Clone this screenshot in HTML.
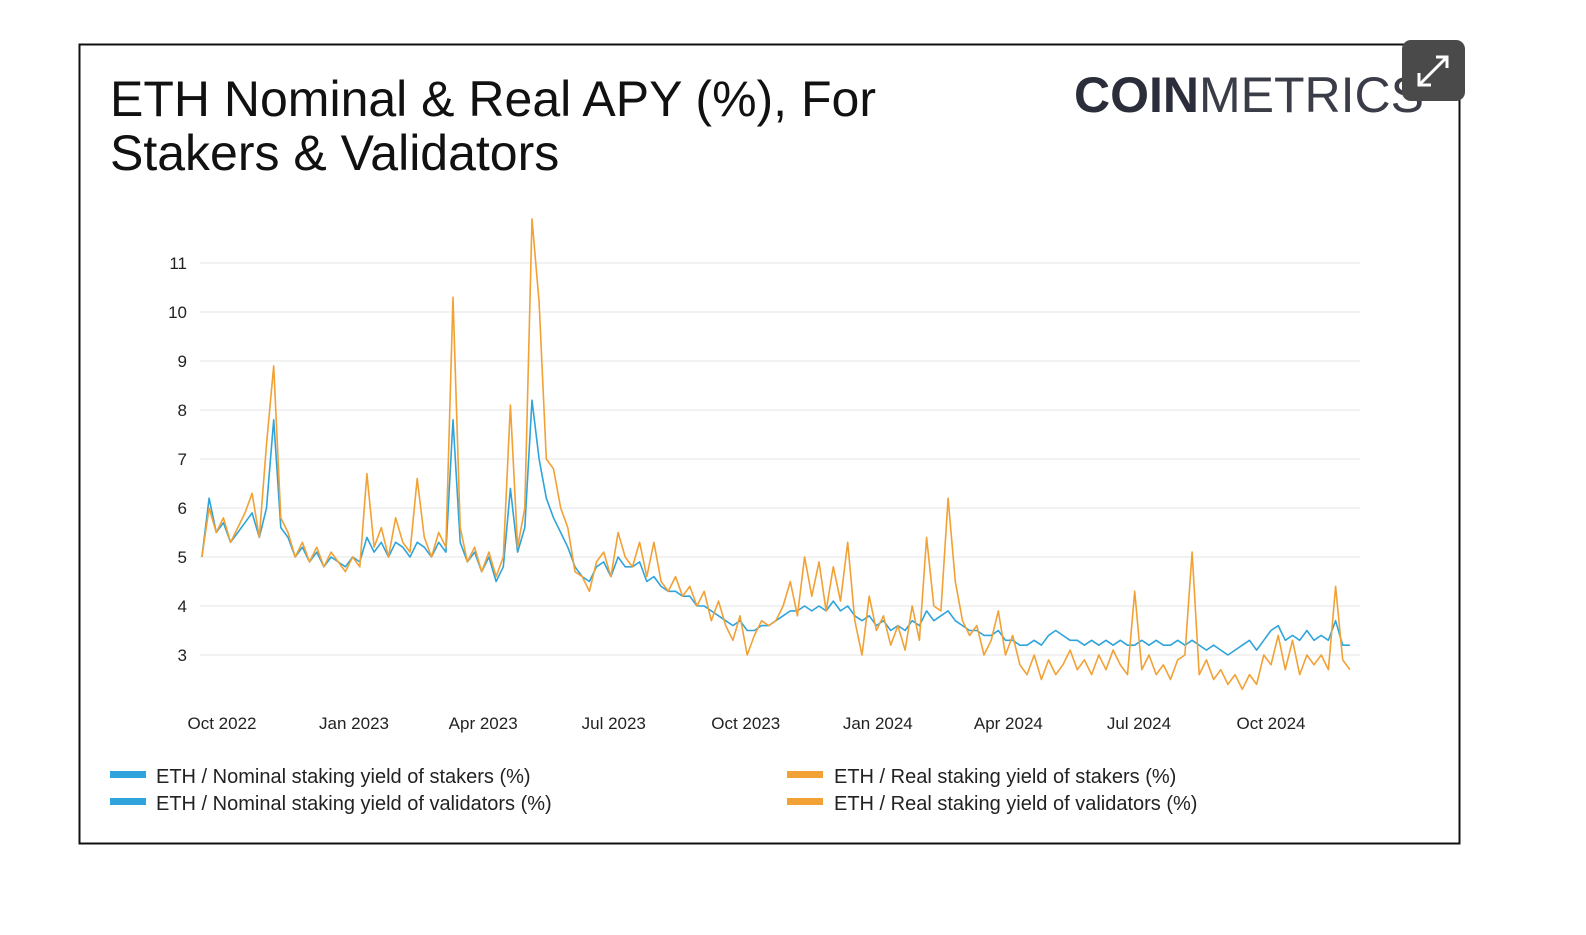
<!DOCTYPE html>
<html><head><meta charset="utf-8"><style>
body{margin:0;background:#fff;width:1586px;height:930px;overflow:hidden;font-family:"Liberation Sans",sans-serif;}
svg text{font-family:"Liberation Sans",sans-serif;}
</style></head><body>
<svg width="1586" height="930">
<rect x="79.5" y="44.5" width="1380" height="799" fill="#fff" stroke="#111" stroke-width="2"/>
<text x="110" y="116" font-size="50" fill="#111">ETH Nominal &amp; Real APY (%), For</text>
<text x="110" y="170" font-size="50" fill="#111">Stakers &amp; Validators</text>
<text x="1074" y="112" font-size="50" fill="#2b2d3a"><tspan font-weight="bold">COIN</tspan><tspan font-weight="normal" fill="#3a3c48">METRICS</tspan></text>
<g>
<rect x="1402" y="40" width="63" height="61" rx="9" fill="#4a4a4a"/>
<path d="M1420 84 L1446 58 M1436 57 L1447 57 L1447 68 M1419 73 L1419 85 L1431 85" stroke="#fff" stroke-width="3" fill="none"/>
</g>
<g id="grid"></g>
<g id="yticks"></g>
<g id="xticks"></g>
<g id="lines"></g>
<g>
<rect x="110" y="771" width="36" height="7" fill="#2fa4dc"/>
<text x="156" y="783" font-size="20" fill="#222">ETH / Nominal staking yield of stakers (%)</text>
<rect x="110" y="798" width="36" height="7" fill="#2fa4dc"/>
<text x="156" y="810" font-size="20" fill="#222">ETH / Nominal staking yield of validators (%)</text>
<rect x="787" y="771" width="36" height="7" fill="#f2a134"/>
<text x="834" y="783" font-size="20" fill="#222">ETH / Real staking yield of stakers (%)</text>
<rect x="787" y="798" width="36" height="7" fill="#f2a134"/>
<text x="834" y="810" font-size="20" fill="#222">ETH / Real staking yield of validators (%)</text>
</g>
</svg>
<script>
const yTicks=[3,4,5,6,7,8,9,10,11];
const xTickLabels=["Oct 2022","Jan 2023","Apr 2023","Jul 2023","Oct 2023","Jan 2024","Apr 2024","Jul 2024","Oct 2024"];
const xTickDays=[0,92,182,273,365,457,548,639,731];
const startDay=-14, stepDays=5;
const realYield=[5.0,6.0,5.5,5.8,5.3,5.6,5.9,6.3,5.4,7.3,
8.9,5.8,5.5,5.0,5.3,4.9,5.2,4.8,5.1,4.9,
4.7,5.0,4.8,6.7,5.2,5.6,5.0,5.8,5.3,5.1,
6.6,5.4,5.0,5.5,5.2,10.3,5.6,4.9,5.2,4.7,
5.1,4.6,5.0,8.1,5.2,6.0,11.9,10.2,7.0,6.8,
6.0,5.6,4.7,4.6,4.3,4.9,5.1,4.6,5.5,5.0,
4.8,5.3,4.6,5.3,4.5,4.3,4.6,4.2,4.4,4.0,
4.3,3.7,4.1,3.6,3.3,3.8,3.0,3.4,3.7,3.6,
3.7,4.0,4.5,3.8,5.0,4.2,4.9,3.9,4.8,4.1,
5.3,3.7,3.0,4.2,3.5,3.8,3.2,3.6,3.1,4.0,
3.3,5.4,4.0,3.9,6.2,4.5,3.7,3.4,3.6,3.0,
3.3,3.9,3.0,3.4,2.8,2.6,3.0,2.5,2.9,2.6,
2.8,3.1,2.7,2.9,2.6,3.0,2.7,3.1,2.8,2.6,
4.3,2.7,3.0,2.6,2.8,2.5,2.9,3.0,5.1,2.6,
2.9,2.5,2.7,2.4,2.6,2.3,2.6,2.4,3.0,2.8,
3.4,2.7,3.3,2.6,3.0,2.8,3.0,2.7,4.4,2.9,2.7];
const nominalYield=[5.0,6.2,5.5,5.7,5.3,5.5,5.7,5.9,5.4,6.0,
7.8,5.6,5.4,5.0,5.2,4.9,5.1,4.8,5.0,4.9,
4.8,5.0,4.9,5.4,5.1,5.3,5.0,5.3,5.2,5.0,
5.3,5.2,5.0,5.3,5.1,7.8,5.3,4.9,5.1,4.7,
5.0,4.5,4.8,6.4,5.1,5.6,8.2,7.0,6.2,5.8,
5.5,5.2,4.8,4.6,4.5,4.8,4.9,4.6,5.0,4.8,
4.8,4.9,4.5,4.6,4.4,4.3,4.3,4.2,4.2,4.0,
4.0,3.9,3.8,3.7,3.6,3.7,3.5,3.5,3.6,3.6,
3.7,3.8,3.9,3.9,4.0,3.9,4.0,3.9,4.1,3.9,
4.0,3.8,3.7,3.8,3.6,3.7,3.5,3.6,3.5,3.7,
3.6,3.9,3.7,3.8,3.9,3.7,3.6,3.5,3.5,3.4,
3.4,3.5,3.3,3.3,3.2,3.2,3.3,3.2,3.4,3.5,
3.4,3.3,3.3,3.2,3.3,3.2,3.3,3.2,3.3,3.2,
3.2,3.3,3.2,3.3,3.2,3.2,3.3,3.2,3.3,3.2,
3.1,3.2,3.1,3.0,3.1,3.2,3.3,3.1,3.3,3.5,
3.6,3.3,3.4,3.3,3.5,3.3,3.4,3.3,3.7,3.2,3.2];
const NS="http://www.w3.org/2000/svg";
function xS(d){return 222+d*1.435;}
function yS(v){return 655-(v-3)*49;}
const grid=document.getElementById('grid'),yt=document.getElementById('yticks'),xt=document.getElementById('xticks'),ln=document.getElementById('lines');
yTicks.forEach(v=>{
 const l=document.createElementNS(NS,'line');
 l.setAttribute('x1',200);l.setAttribute('x2',1360);l.setAttribute('y1',yS(v));l.setAttribute('y2',yS(v));
 l.setAttribute('stroke','#e6e6e6');l.setAttribute('stroke-width','1');
 
 
 grid.appendChild(l);
 const t=document.createElementNS(NS,'text');
 t.setAttribute('x',187);t.setAttribute('y',yS(v)+6);t.setAttribute('text-anchor','end');t.setAttribute('font-size','17');t.setAttribute('fill','#222');
 t.textContent=v;
 
 
 yt.appendChild(t);
});
xTickLabels.forEach((s,i)=>{
 const t=document.createElementNS(NS,'text');
 t.setAttribute('x',xS(xTickDays[i]));t.setAttribute('y',729);t.setAttribute('text-anchor','middle');t.setAttribute('font-size','17');t.setAttribute('fill','#222');
 t.textContent=s;
 
 
 xt.appendChild(t);
});
function draw(arr,color,name){
 const p=document.createElementNS(NS,'polyline');
 p.setAttribute('points',arr.map((v,i)=>xS(startDay+i*stepDays).toFixed(1)+','+yS(v).toFixed(1)).join(' '));
 p.setAttribute('fill','none');p.setAttribute('stroke',color);p.setAttribute('stroke-width','1.6');p.setAttribute('stroke-linejoin','round');
 
 
 ln.appendChild(p);
}
draw(nominalYield,'#2fa4dc','nominal-yield-line');
draw(realYield,'#f2a134','real-yield-line');
</script>
</body></html>
